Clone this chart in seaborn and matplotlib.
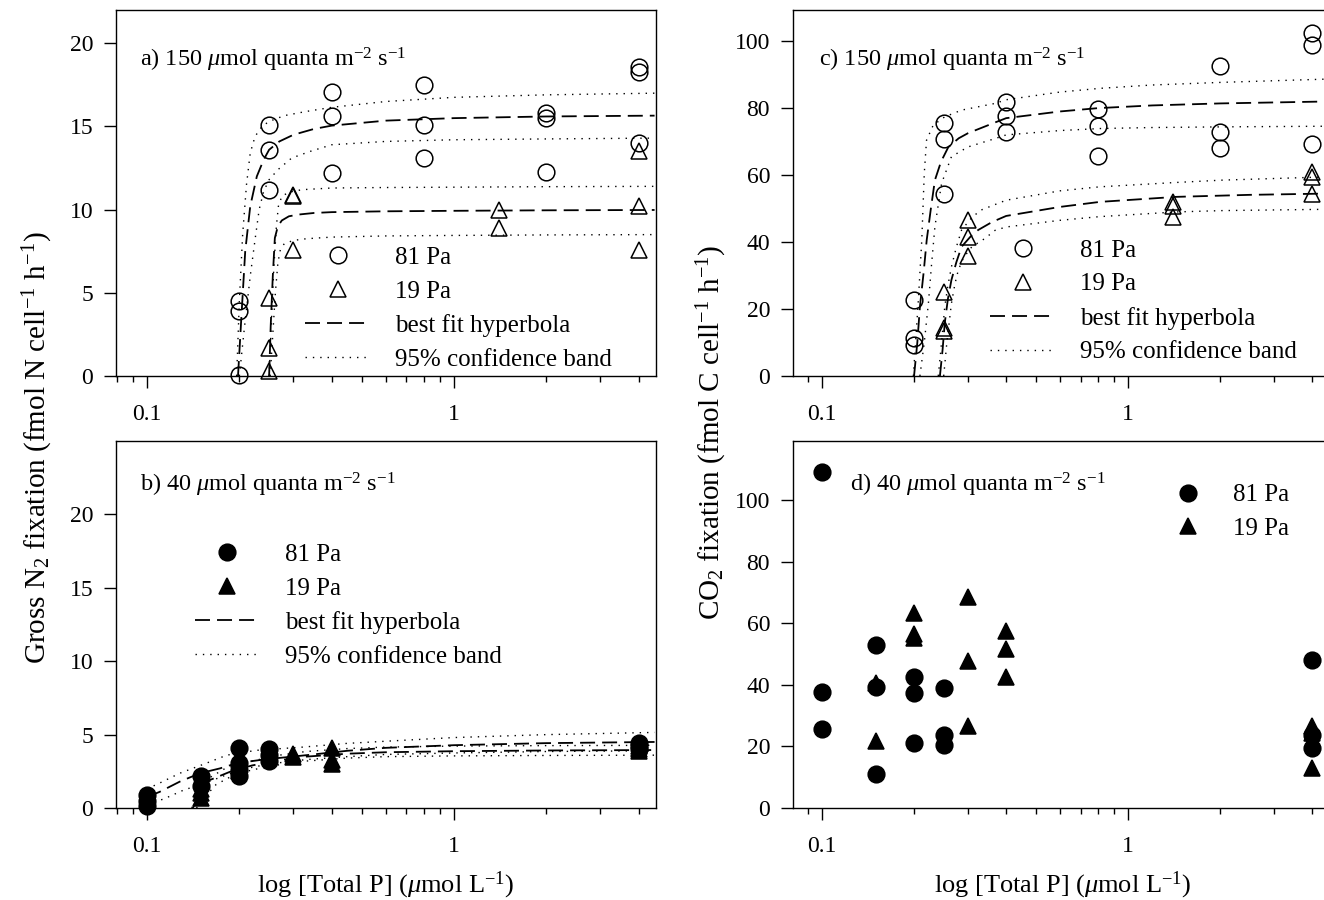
import numpy as np
import matplotlib
matplotlib.use("Agg")
import matplotlib.pyplot as plt
import seaborn as sns
from matplotlib.lines import Line2D
from matplotlib.ticker import LogLocator, NullFormatter, FixedLocator, FixedFormatter

# ---------------- data ----------------
# panel a: N2 fixation, 150 umol quanta
a81_x = [0.2] * 3 + [0.25] * 3 + [0.4] * 3 + [0.8] * 3 + [2] * 3 + [4] * 3
a81_y = [4.5, 3.9, 0.06, 15.1, 13.6, 11.2, 17.06, 15.6, 12.2,
         17.5, 15.1, 13.1, 15.8, 15.5, 12.25, 18.6, 18.3, 14.0]
a19_x = [0.25] * 3 + [0.3] * 3 + [1.4] * 2 + [4] * 3
a19_y = [4.7, 1.7, 0.3, 10.9, 10.8, 7.6, 10.0, 8.9, 13.5, 10.2, 7.6]

a81_fit_x = [0.198, 0.203, 0.209, 0.217, 0.228, 0.24, 0.25, 0.27, 0.3, 0.35, 0.4, 0.6, 1.0, 2.0, 4.5]
a81_fit_y = [0, 3.5, 7.5, 10.2, 12.0, 13.0, 13.6, 14.1, 14.5, 14.85, 15.05, 15.35, 15.5, 15.6, 15.65]
a81_hi_x = [0.196, 0.2, 0.205, 0.211, 0.217, 0.225, 0.237, 0.25, 0.28, 0.33, 0.4, 0.6, 1.0, 2.0, 4.5]
a81_hi_y = [0, 4.5, 8.5, 11.5, 13.4, 14.4, 15.0, 15.3, 15.65, 15.9, 16.15, 16.5, 16.75, 16.9, 17.0]
a81_lo_x = [0.2, 0.208, 0.217, 0.225, 0.232, 0.24, 0.25, 0.267, 0.296, 0.34, 0.4, 0.6, 1.0, 2.0, 4.5]
a81_lo_y = [0, 3.0, 6.0, 8.2, 10.0, 11.1, 11.8, 12.4, 13.1, 13.5, 13.9, 14.1, 14.2, 14.25, 14.3]
a19_fit_x = [0.25, 0.253, 0.257, 0.261, 0.267, 0.275, 0.29, 0.31, 0.35, 0.4, 0.6, 1.0, 2.0, 4.5]
a19_fit_y = [0, 3.0, 6.0, 8.3, 9.0, 9.35, 9.6, 9.7, 9.8, 9.85, 9.9, 9.93, 9.96, 9.98]
a19_hi_x = [0.25, 0.254, 0.259, 0.264, 0.268, 0.275, 0.29, 0.32, 0.4, 0.6, 1.0, 2.0, 4.5]
a19_hi_y = [0, 3.0, 6.5, 9.0, 10.2, 10.8, 11.05, 11.2, 11.3, 11.33, 11.35, 11.38, 11.4]
a19_lo_x = [0.252, 0.257, 0.262, 0.267, 0.272, 0.28, 0.3, 0.33, 0.4, 0.6, 1.0, 2.0, 4.5]
a19_lo_y = [0, 2.5, 5.0, 6.8, 7.6, 7.95, 8.15, 8.25, 8.35, 8.42, 8.45, 8.48, 8.5]

# panel b: N2 fixation, 40 umol quanta
b81_x = [0.1] * 3 + [0.15] * 2 + [0.2] * 4 + [0.25] * 3 + [4] * 3
b81_y = [0.9, 0.5, 0.15, 2.2, 1.5, 4.1, 3.1, 2.6, 2.2, 4.0, 3.6, 3.2, 4.4, 4.2, 4.0]
b19_x = [0.15] * 3 + [0.2] * 2 + [0.3] * 2 + [0.4] * 3 + [4] * 3
b19_y = [1.3, 1.0, 0.7, 2.8, 2.5, 3.7, 3.5, 4.1, 3.3, 3.0, 4.2, 4.0, 3.9]

b81_fit_x = [0.1, 0.11, 0.128, 0.149, 0.173, 0.196, 0.239, 0.331, 0.45, 0.6, 1.0, 2.0, 4.5]
b81_fit_y = [0.75, 1.1, 1.8, 2.37, 2.7, 3.05, 3.3, 3.6, 3.9, 4.1, 4.28, 4.42, 4.5]
b81_hi_x = [0.1, 0.11, 0.128, 0.156, 0.182, 0.227, 0.322, 0.447, 0.6, 1.0, 2.0, 4.5]
b81_hi_y = [1.3, 1.7, 2.37, 3.05, 3.6, 3.93, 4.15, 4.4, 4.55, 4.8, 5.0, 5.15]
b81_lo_x = [0.1, 0.113, 0.131, 0.164, 0.2, 0.25, 0.33, 0.45, 0.6, 1.0, 2.0, 4.5]
b81_lo_y = [0.3, 0.6, 1.2, 1.9, 2.6, 3.0, 3.3, 3.5, 3.65, 3.75, 3.85, 3.9]
b19_fit_x = [0.141, 0.15, 0.16, 0.186, 0.22, 0.27, 0.33, 0.45, 0.6, 1.0, 2.0, 4.5]
b19_fit_y = [0, 1.0, 1.9, 2.46, 2.9, 3.25, 3.5, 3.7, 3.8, 3.87, 3.92, 3.95]
b19_hi_x = [0.14, 0.147, 0.158, 0.18, 0.22, 0.27, 0.33, 0.45, 0.6, 1.0, 2.0, 4.5]
b19_hi_y = [0, 1.0, 2.0, 2.7, 3.2, 3.6, 3.85, 4.05, 4.15, 4.22, 4.25, 4.27]
b19_lo_x = [0.145, 0.155, 0.168, 0.19, 0.22, 0.27, 0.33, 0.45, 0.6, 1.0, 2.0, 4.5]
b19_lo_y = [0, 0.8, 1.6, 2.2, 2.6, 2.95, 3.2, 3.4, 3.5, 3.55, 3.58, 3.6]

# panel c: CO2 fixation, 150 umol quanta
c81_x = [0.2] * 3 + [0.25] * 3 + [0.4] * 3 + [0.8] * 3 + [2] * 3 + [4] * 3
c81_y = [22.8, 11.5, 9.3, 75.5, 70.8, 54.3, 81.8, 77.5, 72.9,
         79.6, 74.6, 65.7, 92.5, 72.9, 68.2, 102.3, 98.8, 69.4]
c19_x = [0.25] * 3 + [0.3] * 3 + [1.4] * 3 + [4] * 3
c19_y = [25.0, 14.3, 13.5, 46.5, 41.5, 35.8, 52.0, 50.8, 47.6, 61.0, 59.5, 54.5]

c81_fit_x = [0.2, 0.205, 0.209, 0.215, 0.22, 0.227, 0.234, 0.245, 0.259, 0.28, 0.3, 0.37, 0.4, 0.6, 0.8, 1.2, 2.0, 4.6]
c81_fit_y = [0, 10, 20.6, 31, 40.6, 50, 58.5, 64, 68.4, 71, 72.5, 75.8, 77.0, 79.0, 80.0, 80.8, 81.4, 82.0]
c81_hi_x = [0.199, 0.2066, 0.212, 0.216, 0.2197, 0.231, 0.252, 0.286, 0.368, 0.4, 0.6, 0.81, 1.2, 2.04, 4.6]
c81_hi_y = [0, 22.7, 40.6, 60.5, 70.4, 74.9, 77.4, 79.4, 81.4, 82.5, 84.8, 85.9, 86.9, 87.7, 88.7]
c81_lo_x = [0.209, 0.216, 0.2228, 0.228, 0.234, 0.246, 0.265, 0.3, 0.368, 0.4, 0.6, 0.81, 1.2, 2.04, 4.6]
c81_lo_y = [0, 10, 21.7, 33, 44.6, 57.5, 65.5, 68.4, 70.9, 72.0, 73.3, 73.9, 74.2, 74.4, 74.6]
c19_fit_x = [0.243, 0.248, 0.252, 0.258, 0.265, 0.275, 0.286, 0.305, 0.324, 0.36, 0.4, 0.6, 0.81, 1.44, 2.5, 4.6]
c19_fit_y = [0, 8, 15.8, 23, 28.7, 34, 38.6, 41.5, 43.6, 46, 47.8, 50.5, 52.0, 53.5, 54.1, 54.5]
c19_hi_x = [0.24, 0.246, 0.252, 0.258, 0.265, 0.275, 0.286, 0.31, 0.332, 0.4, 0.6, 0.81, 1.44, 2.04, 4.6]
c19_hi_y = [0, 10, 20.7, 27, 32.6, 38.5, 43.6, 47.5, 49.6, 52.5, 55.3, 56.5, 57.8, 58.5, 59.5]
c19_lo_x = [0.25, 0.256, 0.265, 0.272, 0.279, 0.29, 0.309, 0.34, 0.368, 0.4, 0.6, 0.81, 1.44, 2.04, 4.6]
c19_lo_y = [0, 10, 21.7, 27.5, 31.6, 35.3, 38.6, 41, 43.5, 44.5, 46.5, 47.6, 49.0, 49.4, 49.8]

# panel d: CO2 fixation, 40 umol quanta
d81_x = [0.1] * 3 + [0.15] * 3 + [0.2] * 3 + [0.25] * 3 + [4] * 3
d81_y = [109.2, 37.8, 25.6, 52.9, 39.2, 11.0, 42.4, 37.2, 21.0, 38.9, 23.7, 20.5, 48.2, 23.7, 19.4]
d19_x = [0.15] * 2 + [0.2] * 3 + [0.3] * 3 + [0.4] * 3 + [4] * 3
d19_y = [40.5, 21.8, 63.4, 56.5, 55.2, 68.6, 47.8, 26.6, 57.5, 51.8, 42.4, 26.5, 24.5, 12.9]

xlabel = r"log [Total P] ($\mu$mol L$^{-1}$)"

# ---------------- style ----------------
sns.set_style("ticks", {"axes.edgecolor": "black", "xtick.color": "black",
                        "ytick.color": "black", "text.color": "black",
                        "axes.labelcolor": "black"})
plt.rcParams["font.family"] = ["Liberation Serif", "DejaVu Serif"]
plt.rcParams["mathtext.fontset"] = "custom"
plt.rcParams["mathtext.rm"] = "Liberation Serif"
plt.rcParams["mathtext.it"] = "Liberation Serif:italic"
plt.rcParams["font.size"] = 17

DASH = (0, (8.3, 3.9))
DOT = (0, (1, 4.3))
MS = 12
LEG_FS = 18
ANN_FS = 17.5


def draw_points(ax, x, y, marker, filled):
    sns.lineplot(x=x, y=y, ax=ax, estimator=None, linestyle="", marker=marker,
                 markersize=MS, markerfacecolor="black" if filled else "none",
                 markeredgecolor="black", markeredgewidth=1.1, clip_on=False)


def draw_curve(ax, x, y, ls, lw):
    sns.lineplot(x=x, y=y, ax=ax, estimator=None, sort=False, color="black",
                 linestyle=ls, linewidth=lw)


def setup(ax, xlim, ymax, yticks):
    ax.set_xscale("log")
    ax.set_xlim(*xlim)
    ax.set_ylim(0, ymax)
    ax.xaxis.set_major_locator(FixedLocator([0.1, 1]))
    ax.xaxis.set_major_formatter(FixedFormatter(["0.1", "1"]))
    ax.xaxis.set_minor_locator(LogLocator(base=10, subs=np.arange(2, 10), numticks=20))
    ax.xaxis.set_minor_formatter(NullFormatter())
    ax.set_yticks(yticks)
    ax.tick_params(which="major", length=8.5, width=1.0, direction="out", labelsize=17)
    ax.tick_params(which="minor", length=4.5, width=1.0, direction="out")
    ax.tick_params(axis="x", which="major", pad=12)
    ax.tick_params(axis="y", which="major", pad=8)
    for s in ax.spines.values():
        s.set_linewidth(1.0)
        s.set_visible(True)
    ax.set_xlabel("")
    ax.set_ylabel("")


def add_legend(ax, filled, with_lines, anchor, handlelength=2.6):
    fc = "black" if filled else "none"
    handles = [Line2D([], [], linestyle="", marker="o", markersize=MS, mfc=fc, mec="black", mew=1.1),
               Line2D([], [], linestyle="", marker="^", markersize=MS, mfc=fc, mec="black", mew=1.1)]
    labels = ["81 Pa", "19 Pa"]
    if with_lines:
        handles += [Line2D([], [], color="black", lw=1.3, ls=DASH),
                    Line2D([], [], color="black", lw=1.0, ls=DOT)]
        labels += ["best fit hyperbola", "95% confidence band"]
    ax.legend(handles, labels, loc="upper left", bbox_to_anchor=anchor, frameon=False,
              borderpad=0, borderaxespad=0, handlelength=handlelength,
              handletextpad=1.0, labelspacing=0.45, fontsize=LEG_FS)


fig = plt.figure(figsize=(13.24, 9), dpi=100)
ax_a = fig.add_axes([0.0876, 0.5822, 0.4079, 0.4067])
ax_b = fig.add_axes([0.0876, 0.1022, 0.4079, 0.4078])
ax_c = fig.add_axes([0.5989, 0.5822, 0.4079, 0.4067])
ax_d = fig.add_axes([0.5989, 0.1022, 0.4079, 0.4078])

xlim_left = (0.0793, 4.55)
xlim_right = (0.0804, 4.68)

# panel a
for xs, ys, ls, lw in [(a81_fit_x, a81_fit_y, DASH, 1.3), (a81_hi_x, a81_hi_y, DOT, 1.0),
                       (a81_lo_x, a81_lo_y, DOT, 1.0), (a19_fit_x, a19_fit_y, DASH, 1.3),
                       (a19_hi_x, a19_hi_y, DOT, 1.0), (a19_lo_x, a19_lo_y, DOT, 1.0)]:
    draw_curve(ax_a, xs, ys, ls, lw)
draw_points(ax_a, a81_x, a81_y, "o", False)
draw_points(ax_a, a19_x, a19_y, "^", False)
setup(ax_a, xlim_left, 22, [0, 5, 10, 15, 20])
ax_a.text(0.044, 0.846, r"a) 150 $\mu$mol quanta m$^{-2}$ s$^{-1}$", transform=ax_a.transAxes, fontsize=ANN_FS)
add_legend(ax_a, False, True, (0.35, 0.354))

# panel b
for xs, ys, ls, lw in [(b81_fit_x, b81_fit_y, DASH, 1.3), (b81_hi_x, b81_hi_y, DOT, 1.0),
                       (b81_lo_x, b81_lo_y, DOT, 1.0), (b19_fit_x, b19_fit_y, DASH, 1.3),
                       (b19_hi_x, b19_hi_y, DOT, 1.0), (b19_lo_x, b19_lo_y, DOT, 1.0)]:
    draw_curve(ax_b, xs, ys, ls, lw)
draw_points(ax_b, b81_x, b81_y, "o", True)
draw_points(ax_b, b19_x, b19_y, "^", True)
setup(ax_b, xlim_left, 25, [0, 5, 10, 15, 20])
ax_b.text(0.044, 0.862, r"b) 40 $\mu$mol quanta m$^{-2}$ s$^{-1}$", transform=ax_b.transAxes, fontsize=ANN_FS)
add_legend(ax_b, True, True, (0.146, 0.721))
ax_b.set_xlabel(xlabel, fontsize=19, labelpad=9)

# panel c
for xs, ys, ls, lw in [(c81_fit_x, c81_fit_y, DASH, 1.3), (c81_hi_x, c81_hi_y, DOT, 1.0),
                       (c81_lo_x, c81_lo_y, DOT, 1.0), (c19_fit_x, c19_fit_y, DASH, 1.3),
                       (c19_hi_x, c19_hi_y, DOT, 1.0), (c19_lo_x, c19_lo_y, DOT, 1.0)]:
    draw_curve(ax_c, xs, ys, ls, lw)
draw_points(ax_c, c81_x, c81_y, "o", False)
draw_points(ax_c, c19_x, c19_y, "^", False)
setup(ax_c, xlim_right, 109.3, [0, 20, 40, 60, 80, 100])
ax_c.text(0.048, 0.846, r"c) 150 $\mu$mol quanta m$^{-2}$ s$^{-1}$", transform=ax_c.transAxes, fontsize=ANN_FS)
add_legend(ax_c, False, True, (0.365, 0.374))

# panel d
draw_points(ax_d, d81_x, d81_y, "o", True)
draw_points(ax_d, d19_x, d19_y, "^", True)
setup(ax_d, xlim_right, 119.2, [0, 20, 40, 60, 80, 100])
ax_d.text(0.1056, 0.862, r"d) 40 $\mu$mol quanta m$^{-2}$ s$^{-1}$", transform=ax_d.transAxes, fontsize=ANN_FS)
add_legend(ax_d, True, False, (0.694, 0.883), handlelength=1.6)
ax_d.set_xlabel(xlabel, fontsize=19, labelpad=9)

# shared y labels
fig.text(0.029, 0.503, r"Gross N$_2$ fixation (fmol N cell$^{-1}$ h$^{-1}$)",
         rotation=90, ha="center", va="center", fontsize=21)
fig.text(0.538, 0.52, r"CO$_2$ fixation (fmol C cell$^{-1}$ h$^{-1}$)",
         rotation=90, ha="center", va="center", fontsize=21)

fig.savefig("out.png", dpi=100)
